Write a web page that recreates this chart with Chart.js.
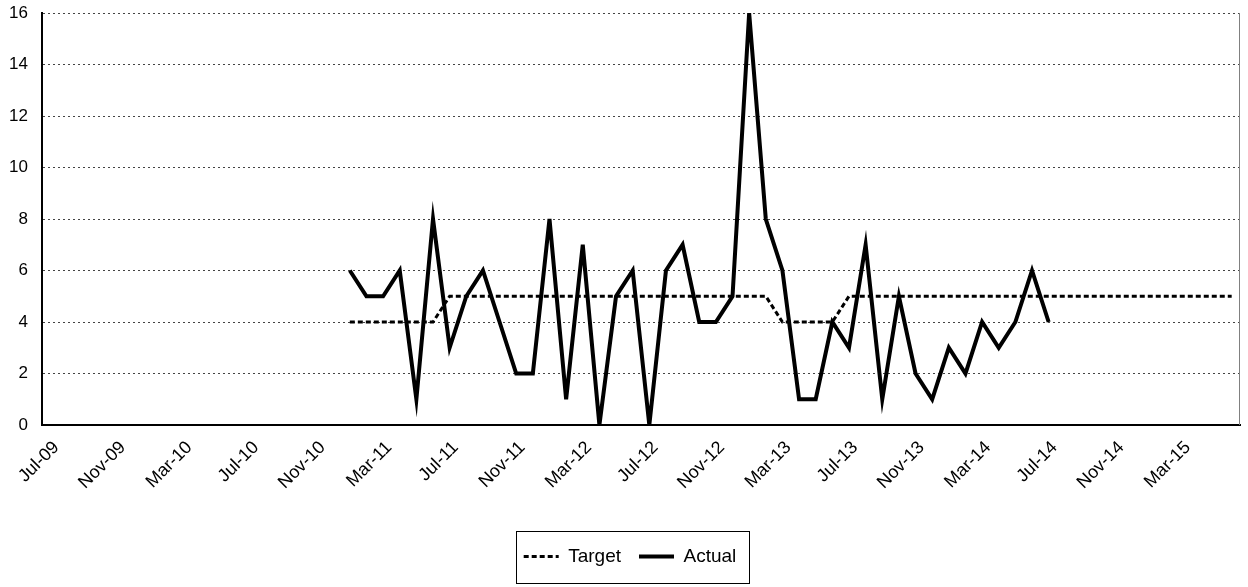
<!DOCTYPE html>
<html>
<head>
<meta charset="utf-8">
<script src="https://cdn.jsdelivr.net/npm/chart.js@4.4.1/dist/chart.umd.min.js"></script>
<style>
  html, body { margin: 0; padding: 0; background: #ffffff; }
  #wrap { position: relative; width: 1248px; height: 587px; }
</style>
</head>
<body>
<div id="wrap"><canvas id="c" width="1248" height="587"></canvas></div>
<script>
// Monthly categories Jul-09 .. Jun-15
const categories = [
  "Jul-09","Aug-09","Sep-09","Oct-09","Nov-09","Dec-09",
  "Jan-10","Feb-10","Mar-10","Apr-10","May-10","Jun-10",
  "Jul-10","Aug-10","Sep-10","Oct-10","Nov-10","Dec-10",
  "Jan-11","Feb-11","Mar-11","Apr-11","May-11","Jun-11",
  "Jul-11","Aug-11","Sep-11","Oct-11","Nov-11","Dec-11",
  "Jan-12","Feb-12","Mar-12","Apr-12","May-12","Jun-12",
  "Jul-12","Aug-12","Sep-12","Oct-12","Nov-12","Dec-12",
  "Jan-13","Feb-13","Mar-13","Apr-13","May-13","Jun-13",
  "Jul-13","Aug-13","Sep-13","Oct-13","Nov-13","Dec-13",
  "Jan-14","Feb-14","Mar-14","Apr-14","May-14","Jun-14",
  "Jul-14","Aug-14","Sep-14","Oct-14","Nov-14","Dec-14",
  "Jan-15","Feb-15","Mar-15","Apr-15","May-15","Jun-15"
];
// Labels shown on the x axis
const tickLabels = ["Jul-09","Nov-09","Mar-10","Jul-10","Nov-10","Mar-11","Jul-11","Nov-11","Mar-12",
                    "Jul-12","Nov-12","Mar-13","Jul-13","Nov-13","Mar-14","Jul-14","Nov-14","Mar-15"];
const yTicks = [0, 2, 4, 6, 8, 10, 12, 14, 16];

const N = null;
const targetValues = [
  N,N,N,N,N,N, N,N,N,N,N,N, N,N,N,N,N,N,
  4,4,4,4,4,4,
  5,5,5,5,5,5, 5,5,5,5,5,5, 5,5,5,5,5,5, 5,5,
  4,4,4,4,
  5,5,5,5,5,5, 5,5,5,5,5,5, 5,5,5,5,5,5, 5,5,5,5,5,5
];
const actualValues = [
  N,N,N,N,N,N, N,N,N,N,N,N, N,N,N,N,N,N,
  6,5,5,6,1,8,
  3,5,6,4,2,2, 8,1,7,0,5,6,
  0,6,7,4,4,5, 16,8,6,1,1,4,
  3,7,1,5,2,1, 3,2,4,3,4,6,
  4,N,N,N,N,N, N,N,N,N,N,N
];

const FONT = "'Liberation Sans', Arial, sans-serif";

const frame = {
  id: 'frame',
  afterLayout(chart) {
    const lg = chart.legend;
    if (lg) { lg.left += 10; lg.right += 10; }
  },
  afterDraw(chart) {
    const ctx = chart.ctx;
    const a = chart.chartArea;
    ctx.save();
    ctx.strokeStyle = '#808080';
    ctx.lineWidth = 1;
    ctx.setLineDash([]);
    ctx.beginPath();
    ctx.moveTo(Math.round(a.right) - 0.5, a.top);
    ctx.lineTo(Math.round(a.right) - 0.5, a.bottom);
    ctx.stroke();
    const lg = chart.legend;
    if (lg && lg.legendHitBoxes && lg.legendHitBoxes.length) {
      let l = Infinity, r = -Infinity, t = Infinity, b = -Infinity;
      lg.legendHitBoxes.forEach(h => {
        l = Math.min(l, h.left); r = Math.max(r, h.left + h.width);
        t = Math.min(t, h.top); b = Math.max(b, h.top + h.height);
      });
      const cy = (t + b) / 2;
      ctx.strokeStyle = '#000000';
      ctx.lineWidth = 1;
      ctx.strokeRect(Math.round(l - 8) + 0.5, Math.round(cy - 26) + 0.5, Math.round(r - l + 20), 52);
    }
    ctx.restore();
  }
};

new Chart(document.getElementById('c'), {
  type: 'line',
  data: {
    labels: categories,
    datasets: [
      {
        label: 'Target',
        data: targetValues,
        borderColor: '#000000',
        backgroundColor: '#000000',
        borderWidth: 3,
        borderDash: [5, 3],
        pointRadius: 0,
        tension: 0,
        spanGaps: false
      },
      {
        label: 'Actual',
        data: actualValues,
        borderColor: '#000000',
        backgroundColor: '#000000',
        borderWidth: 4,
        pointRadius: 0,
        tension: 0,
        spanGaps: false
      }
    ]
  },
  options: {
    responsive: false,
    animation: false,
    devicePixelRatio: 1,
    layout: { padding: { top: 13, right: 8, bottom: 11, left: 0 } },
    plugins: {
      tooltip: { enabled: false },
      legend: {
        position: 'bottom',
        labels: {
          usePointStyle: true,
          pointStyle: 'line',
          pointStyleWidth: 35,
          boxHeight: 19,
          padding: 18,
          color: '#000000',
          font: { family: FONT, size: 19 },
          generateLabels(chart) {
            return chart.data.datasets.map((ds, i) => ({
              text: ds.label,
              fillStyle: '#000000',
              strokeStyle: '#000000',
              fontColor: '#000000',
              lineWidth: ds.borderWidth,
              lineDash: ds.borderDash || [],
              lineCap: 'butt',
              pointStyle: 'line',
              hidden: false,
              datasetIndex: i
            }));
          }
        }
      }
    },
    scales: {
      x: {
        type: 'category',
        offset: true,
        grid: { display: false, drawTicks: false },
        border: { display: true, color: '#000000', width: 2 },
        ticks: {
          autoSkip: false,
          maxRotation: 45,
          minRotation: 45,
          padding: 12,
          labelOffset: 6,
          color: '#000000',
          font: { family: FONT, size: 18 },
          callback: function(v, i) {
            const lab = categories[i];
            return tickLabels.includes(lab) ? lab : '';
          }
        },
        afterFit(scale) { scale.height = 104; scale.paddingLeft = 0; scale.paddingRight = 0; }
      },
      y: {
        min: 0,
        max: 16,
        afterBuildTicks(scale) { scale.ticks = yTicks.map(v => ({ value: v })); },
        grid: {
          color: '#444444',
          lineWidth: 1,
          drawTicks: false
        },
        border: { display: true, color: '#000000', width: 2, dash: [2, 3] },
        ticks: {
          padding: 14,
          color: '#000000',
          font: { family: FONT, size: 17 }
        },
        afterFit(scale) { scale.width = 42; scale.paddingTop = 0; scale.paddingBottom = 0; }
      }
    }
  },
  plugins: [frame]
});
</script>
</body>
</html>
